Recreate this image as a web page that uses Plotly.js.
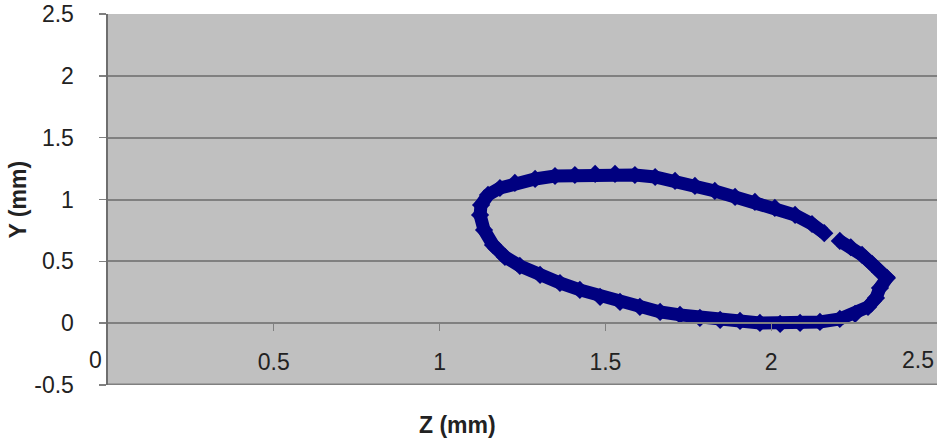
<!DOCTYPE html>
<html>
<head>
<meta charset="utf-8">
<script src="https://cdn.plot.ly/plotly-3.0.1.min.js"></script>
<style>html,body{margin:0;padding:0;background:#fff;}#chart{width:937px;height:439px;}</style>
</head>
<body>
<div id="chart"></div>
<script>
// Trajectory: Z (mm) and Y (mm)
const zValues = [2.207, 2.240, 2.274, 2.304, 2.328, 2.349, 2.328, 2.316, 2.292, 2.253, 2.207, 2.147, 2.087, 2.027, 1.966, 1.906, 1.846, 1.785, 1.725, 1.665, 1.604, 1.544, 1.484, 1.423, 1.363, 1.303, 1.242, 1.197, 1.161, 1.134, 1.122, 1.125, 1.146, 1.182, 1.227, 1.288, 1.348, 1.408, 1.469, 1.529, 1.589, 1.650, 1.710, 1.770, 1.830, 1.891, 1.951, 2.011, 2.072, 2.123, 2.160];
const yValues = [0.665, 0.614, 0.552, 0.479, 0.414, 0.366, 0.285, 0.204, 0.131, 0.075, 0.034, 0.010, 0.002, -0.006, 0.002, 0.018, 0.026, 0.042, 0.067, 0.091, 0.131, 0.172, 0.212, 0.269, 0.325, 0.390, 0.463, 0.536, 0.633, 0.754, 0.875, 0.956, 1.037, 1.093, 1.134, 1.166, 1.190, 1.198, 1.207, 1.207, 1.198, 1.182, 1.150, 1.110, 1.069, 1.021, 0.980, 0.932, 0.875, 0.802, 0.728];
const xTickVals = [0.5, 1, 1.5, 2];
const xTickText = ['0.5', '1', '1.5', '2'];
const xEdgeLabels = [{v: 0, t: '0'}, {v: 2.5, t: '2.5'}];
const yTickVals = [-0.5, 0, 0.5, 1, 1.5, 2, 2.5];
const yTickText = ['-0.5', '0', '0.5', '1', '1.5', '2', '2.5'];

const navy = '#000080';
const grid = '#808080';
const fontFam = 'Liberation Sans, Arial, sans-serif';
const fs = 23;

const trace = {
  x: zValues, y: yValues, type: 'scatter', mode: 'lines+markers',
  line: {color: navy, width: 13},
  marker: {symbol: 'diamond', size: 14, color: navy},
  hoverinfo: 'skip', showlegend: false, cliponaxis: true
};

const annotations = xEdgeLabels.map((e, i) => ({
  x: e.v, y: 0, xref: 'x', yref: 'y', text: e.t, showarrow: false,
  xanchor: 'right', yanchor: 'top',
  xshift: i === 0 ? -4 : -1, yshift: -22,
  font: {family: fontFam, size: fs, color: '#222'}
}));
annotations.push({
  x: 0.421, y: -0.108, xref: 'paper', yref: 'paper', text: '<b>Z (mm)</b>',
  showarrow: false, xanchor: 'center', yanchor: 'middle',
  font: {family: fontFam, size: fs, color: '#222'}
});
annotations.push({
  x: -0.1086, y: 0.5, xref: 'paper', yref: 'paper', text: '<b>Y (mm)</b>',
  showarrow: false, xanchor: 'center', yanchor: 'middle', textangle: -90,
  font: {family: fontFam, size: fs, color: '#222'}
});

const layout = {
  width: 937, height: 439,
  margin: {l: 108, r: 0, t: 14, b: 54, pad: 0},
  paper_bgcolor: '#ffffff', plot_bgcolor: '#c0c0c0',
  showlegend: false,
  font: {family: fontFam, size: fs, color: '#222'},
  xaxis: {
    range: [0, 2.5], anchor: 'free', position: 0.5 / 3,
    showgrid: false, zeroline: false,
    showline: true, linecolor: grid, linewidth: 2,
    ticks: 'outside', ticklen: 7, tickwidth: 1, tickcolor: grid,
    tickvals: xTickVals, ticktext: xTickText,
    ticklabelstandoff: 11,
    tickfont: {family: fontFam, size: fs, color: '#222'},
    fixedrange: true
  },
  yaxis: {
    range: [-0.5, 2.5],
    tickvals: yTickVals, ticktext: yTickText,
    showgrid: true, gridcolor: grid, gridwidth: 2,
    zeroline: false,
    showline: true, linecolor: '#6e6e6e', linewidth: 2.5,
    ticks: 'outside', ticklen: 7, tickwidth: 1.5, tickcolor: grid,
    ticklabelstandoff: 20,
    tickfont: {family: fontFam, size: fs, color: '#222'},
    fixedrange: true
  },
  shapes: [{
    type: 'line', xref: 'paper', yref: 'y', x0: 0, x1: 1, y0: -0.5, y1: -0.5,
    line: {color: grid, width: 3}
  }],
  annotations: annotations
};

Plotly.newPlot('chart', [trace], layout, {displayModeBar: false, staticPlot: true});
</script>
</body>
</html>
